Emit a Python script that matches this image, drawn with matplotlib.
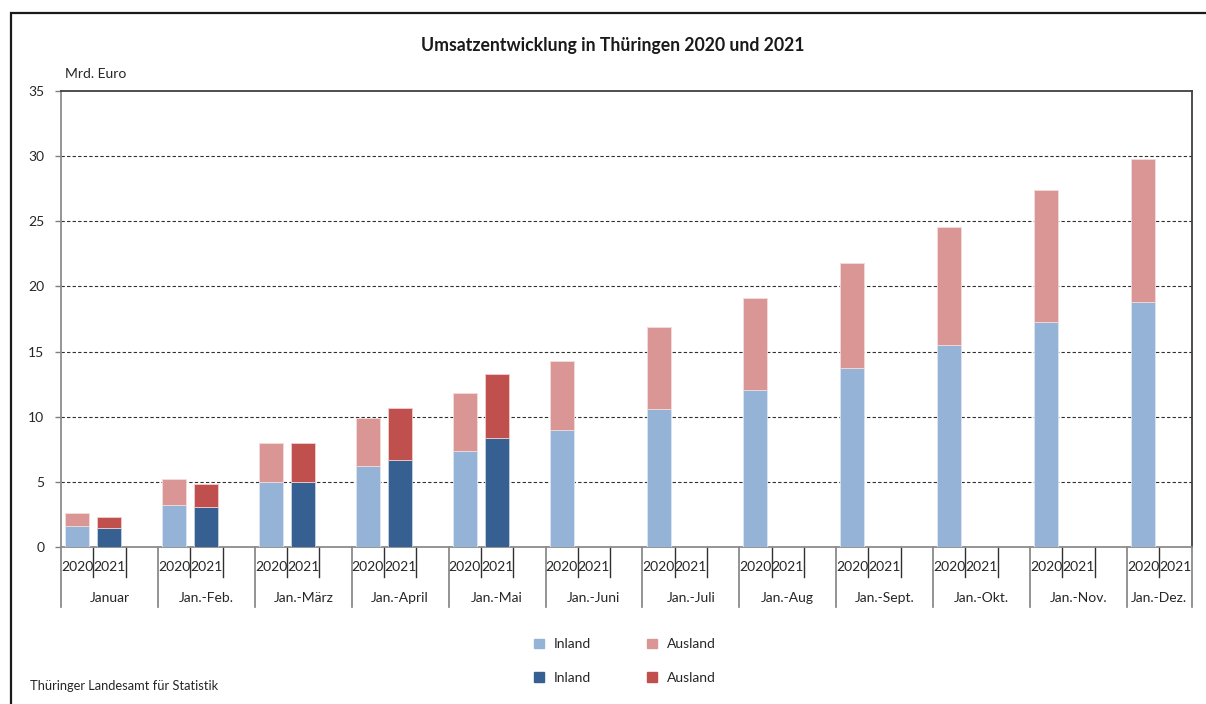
import numpy as np
import matplotlib
matplotlib.use('Agg')
import matplotlib.pyplot as plt
from matplotlib.patches import Patch, Rectangle
import matplotlib.transforms as mtransforms

plt.rcParams['font.family'] = ['Lato', 'DejaVu Sans']

# Data (Mrd. Euro, cumulative)
groups = ['Januar', 'Jan.-Feb.', 'Jan.-März', 'Jan.-April', 'Jan.-Mai', 'Jan.-Juni',
          'Jan.-Juli', 'Jan.-Aug', 'Jan.-Sept.', 'Jan.-Okt.', 'Jan.-Nov.', 'Jan.-Dez.']
years = ['2020', '2021']
inland_2020  = [1.6, 3.2, 5.0, 6.2, 7.4, 8.95, 10.6, 12.05, 13.75, 15.5, 17.3, 18.8]
ausland_2020 = [1.0, 2.0, 2.95, 3.7, 4.45, 5.3, 6.3, 7.05, 8.05, 9.05, 10.1, 10.95]
inland_2021  = [1.45, 3.1, 5.0, 6.7, 8.35]
ausland_2021 = [0.85, 1.7, 2.95, 4.0, 4.95]
yticks = [0, 5, 10, 15, 20, 25, 30, 35]

c_in20, c_aus20 = '#95b3d7', '#da9694'
c_in21, c_aus21 = '#366092', '#c0504d'
txt = '#262626'

fig = plt.figure(figsize=(12.06, 7.04), dpi=100)
ax = fig.add_axes([61/1206, 1-547/704, (1191.5-61)/1206, (547-91)/704])

n = len(groups)
slots = 3
x20 = np.arange(n) * slots
x21 = np.arange(len(inland_2021)) * slots + 1
w = 0.74

ax.bar(x20, inland_2020, w, color=c_in20, edgecolor='#dde6f0', linewidth=0.6, zorder=3)
ax.bar(x20, ausland_2020, w, bottom=inland_2020, color=c_aus20, edgecolor='#f2dcdb', linewidth=0.6, zorder=3)
ax.bar(x21, inland_2021, w, color=c_in21, edgecolor='#c5d3e3', linewidth=0.6, zorder=3)
ax.bar(x21, ausland_2021, w, bottom=inland_2021, color=c_aus21, edgecolor='#f0cfce', linewidth=0.6, zorder=3)

ax.set_xlim(-0.5, n * slots - 1 - 0.5)
ax.set_ylim(0, 35)
ax.set_yticks(yticks)
ax.set_yticklabels([str(v) for v in yticks], fontsize=10, color=txt)
ax.tick_params(axis='y', length=4, width=1, color='#808080', pad=8)
ax.set_xticks([])
for v in yticks[1:-1]:
    ax.axhline(v, color='#303030', linestyle=(0, (3, 2)), linewidth=0.8, zorder=1)

for s in ['left', 'bottom']:
    ax.spines[s].set_color('#8c8c8c')
    ax.spines[s].set_linewidth(1.3)
for s in ['top', 'right']:
    ax.spines[s].set_color('#404040')
    ax.spines[s].set_linewidth(1.3)

# category axis: year labels and group labels with separators
trans = mtransforms.blended_transform_factory(ax.transData, ax.transAxes)
px = 1.0 / (547 - 91)
short_y = -30 * px
long_y = -60 * px
right_edge = n * slots - 1.5
for g in range(n):
    start = g * slots - 0.5
    ax.plot([start, start], [0, long_y], transform=trans, color='#808080', lw=1.2, clip_on=False)
    for k, yr in enumerate(years):
        xc = g * slots + k
        ax.text(xc, -20 * px, yr, transform=trans, ha='center', va='center', fontsize=10, color=txt)
        sep = xc + 0.5
        if sep < right_edge:
            ax.plot([sep, sep], [0, short_y], transform=trans, color='#303030', lw=1, clip_on=False)
    end = min(g * slots + 2.5, right_edge)
    ax.text((start + end) / 2 if g == n - 1 else g * slots + 1, -51 * px, groups[g], transform=trans,
            ha='center', va='center', fontsize=10, color=txt)
ax.plot([right_edge, right_edge], [0, long_y], transform=trans, color='#808080', lw=1.2, clip_on=False)

# texts
fig.text(613/1206, 1-45/704, 'Umsatzentwicklung in Thüringen 2020 und 2021', ha='center', va='center',
         fontsize=12.7, fontweight='bold', color='#1a1a1a')
fig.text(65/1206, 1-74/704, 'Mrd. Euro', ha='left', va='center', fontsize=10, color=txt)
fig.text(30/1206, 1-686/704, 'Thüringer Landesamt für Statistik', ha='left', va='center', fontsize=9.3, color=txt)

handles = [Patch(color=c_in20), Patch(color=c_in21), Patch(color=c_aus20), Patch(color=c_aus21)]
labels = ['Inland', 'Inland', 'Ausland', 'Ausland']
fig.legend(handles, labels, ncol=2, loc='center', bbox_to_anchor=(625/1206, 1-661/704), frameon=False,
           fontsize=10, handlelength=0.7, handleheight=0.7, columnspacing=4.05, labelspacing=1.55,
           handletextpad=0.7, labelcolor=txt)

# outer frame
fig.patches.append(Rectangle((11/1206, -0.05), 1.1, 1 - 13/704 + 0.05, transform=fig.transFigure,
                             fill=False, edgecolor='#1a1a1a', linewidth=1.6))

fig.savefig('out.png', dpi=100)
